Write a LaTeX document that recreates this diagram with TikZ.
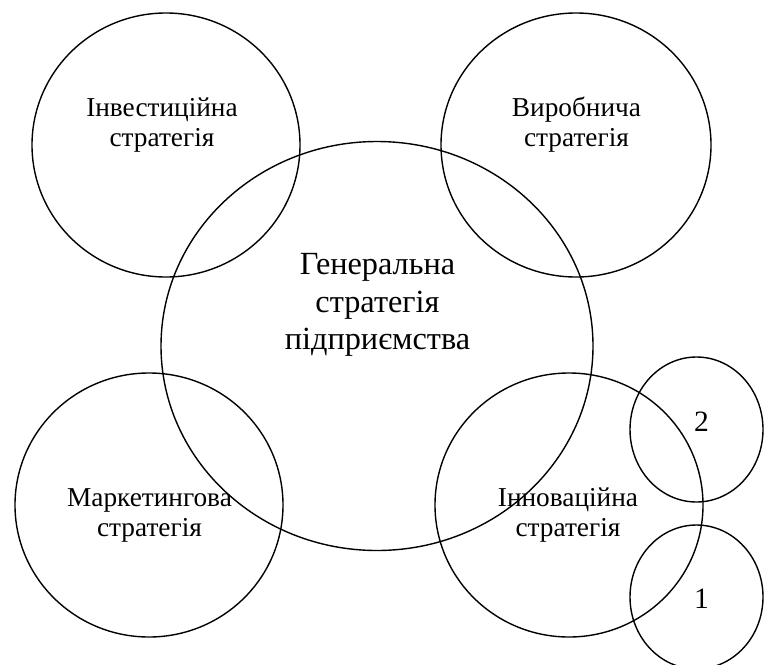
\documentclass[tikz,border=0pt]{standalone}
\usepackage{fontspec}
\setmainfont{Liberation Serif}
\usetikzlibrary{shapes.geometric}
\tikzset{
  ring/.style={ellipse, draw, line width=1.4pt, inner sep=0pt, outer sep=0pt},
  small/.style={align=center, inner sep=0pt, font=\fontsize{27.3}{30}\selectfont},
  big/.style={align=center, inner sep=0pt, font=\fontsize{32.3}{37.5}\selectfont},
  digit/.style={inner sep=0pt, font=\fontsize{29.5}{34}\selectfont}
}
\begin{document}
\begin{tikzpicture}[x=1pt,y=-1pt]
\useasboundingbox (0,0) rectangle (765,664);
\clip (0,0) rectangle (765,664);
\node[ring, minimum width=268pt, minimum height=264pt] (tl) at (166,145) {};
\node[ring, minimum width=270pt, minimum height=264pt] (tr) at (576,145) {};
\node[ring, minimum width=268pt, minimum height=264pt] (bl) at (149,505) {};
\node[ring, minimum width=268pt, minimum height=264pt] (br) at (569,505) {};
\node[ring, minimum width=432pt, minimum height=409pt] (gen) at (377,346) {};
\node[ring, minimum width=133pt, minimum height=145pt] (c2) at (696.5,429.5) {};
\node[ring, minimum width=133pt, minimum height=144pt] (c1) at (696.5,597) {};
\node[small] (tlt) at (162,125) {Інвестиційна\\стратегія};
\node[small] (trt) at (576.5,125) {Виробнича\\стратегія};
\node[small] (blt) at (149.5,515) {Маркетингова\\стратегія};
\node[small] (brt) at (568,515) {Інноваційна\\стратегія};
\node[big] (gent) at (377.5,305) {Генеральна\\стратегія\\підприємства};
\node[digit] (d2) at (701.5,421.5) {2};
\node[digit] (d1) at (701.5,599) {1};
\end{tikzpicture}
\end{document}
